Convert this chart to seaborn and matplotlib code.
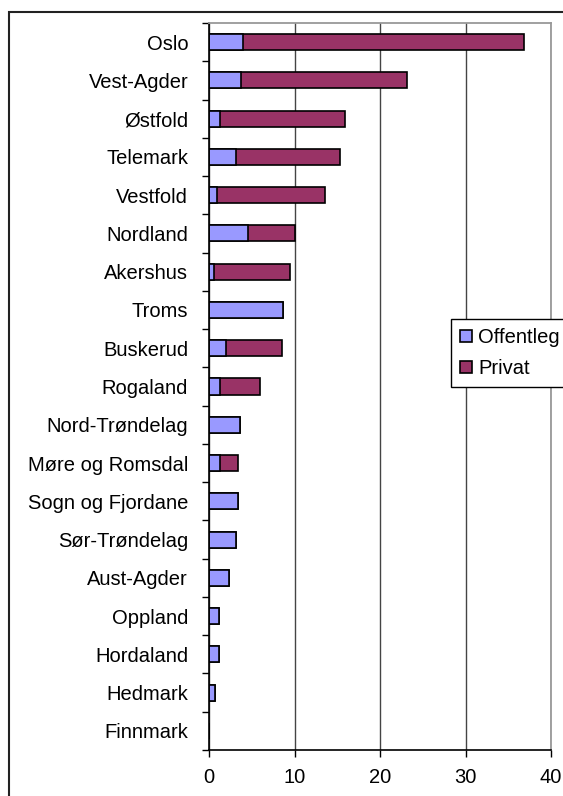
import numpy as np
import pandas as pd
import seaborn as sns
import matplotlib.pyplot as plt
from matplotlib.patches import Rectangle

fylke = ["Oslo", "Vest-Agder", "Østfold", "Telemark", "Vestfold", "Nordland",
         "Akershus", "Troms", "Buskerud", "Rogaland", "Nord-Trøndelag",
         "Møre og Romsdal", "Sogn og Fjordane", "Sør-Trøndelag", "Aust-Agder",
         "Oppland", "Hordaland", "Hedmark", "Finnmark"]
offentleg = [4.0, 3.7, 1.3, 3.2, 0.9, 4.6, 0.55, 8.7, 2.0, 1.3, 3.6,
             1.3, 3.4, 3.2, 2.3, 1.2, 1.2, 0.75, 0.0]
privat = [32.8, 19.5, 14.6, 12.1, 12.7, 5.4, 8.9, 0.0, 6.5, 4.7, 0.0,
          2.1, 0.0, 0.0, 0.0, 0.0, 0.0, 0.0, 0.0]

df = pd.DataFrame({"fylke": fylke, "Offentleg": offentleg, "Privat": privat})
df["total"] = df["Offentleg"] + df["Privat"]

sns.set_style("white")
plt.rcParams["font.family"] = ["Liberation Sans", "DejaVu Sans"]
plt.rcParams["text.color"] = "black"
plt.rcParams["xtick.color"] = "black"
plt.rcParams["ytick.color"] = "black"

fig = plt.figure(figsize=(5.63, 7.96), dpi=100)
ax = fig.add_axes([209 / 563, 46 / 796, 342 / 563, 727 / 796])

# stacked: total bar (privat colour) with offentleg drawn on top
sns.barplot(data=df, x="total", y="fylke", orient="h", color="#993366",
            width=0.42, edgecolor="black", linewidth=1.2, label="Privat",
            saturation=1, ax=ax)
sns.barplot(data=df, x="Offentleg", y="fylke", orient="h", color="#9999FF",
            width=0.42, edgecolor="black", linewidth=1.2, label="Offentleg",
            saturation=1, ax=ax)

ax.set_xlim(0, 40)
ax.set_ylim(len(fylke) - 0.5, -0.5)
ax.set_xticks([0, 10, 20, 30, 40])
ax.set_xlabel("")
ax.set_ylabel("")
ax.set_axisbelow(True)
ax.xaxis.grid(True, color="#444444", linewidth=1)

for s in ["top", "right"]:
    ax.spines[s].set_color("#999999")
    ax.spines[s].set_linewidth(1.3)
for s in ["left", "bottom"]:
    ax.spines[s].set_color("black")
    ax.spines[s].set_linewidth(1.2)

ax.set_yticks(np.arange(-0.5, len(fylke), 1), minor=True)
ax.tick_params(axis="y", which="major", length=0, pad=15, labelsize=14.5)
ax.tick_params(axis="y", which="minor", length=5, width=1, direction="out", left=True)
ax.tick_params(axis="x", which="major", length=5, width=1, direction="out",
               bottom=True, pad=8, labelsize=14.5)

handles, labels = ax.get_legend_handles_labels()
if ax.legend_ is not None:
    ax.legend_.remove()
order = [labels.index("Offentleg"), labels.index("Privat")]
leg = fig.legend([handles[i] for i in order], [labels[i] for i in order],
                 loc="upper left", bbox_to_anchor=(451 / 563, 1 - 319 / 796),
                 frameon=True, fancybox=False, edgecolor="black", fontsize=14.5,
                 handlelength=0.6, handleheight=0.6, handletextpad=0.3,
                 borderpad=0.45, labelspacing=0.6, borderaxespad=0)
leg.get_frame().set_linewidth(1)
leg.get_frame().set_alpha(1)

# outer chart border
fig.patches.append(Rectangle((8.5 / 563, -0.02), 0.99, 1 - 12 / 796 + 0.02,
                             transform=fig.transFigure, fill=False,
                             edgecolor="#222222", linewidth=1.5, clip_on=False))

fig.savefig("out.png", dpi=100)
